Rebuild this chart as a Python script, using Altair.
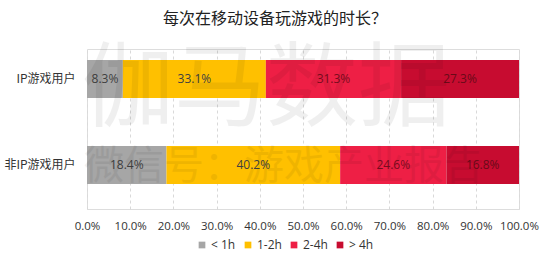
import altair as alt
import pandas as pd

groups = ["IP游戏用户", "非IP游戏用户"]
durations = ["< 1h", "1-2h", "2-4h", "> 4h"]
ip_values = [8.3, 33.1, 31.3, 27.3]
non_ip_values = [18.4, 40.2, 24.6, 16.8]
colors = ["#A6A6A6", "#FFC000", "#EE1F45", "#C70C30"]
label_colors = ["#404040", "#404040", "#7B0C1E", "#6A0A18"]
x_ticks = [0, 10, 20, 30, 40, 50, 60, 70, 80, 90, 100]

rows = []
for g, vals in zip(groups, [ip_values, non_ip_values]):
    cum = 0.0
    for i, (d, v) in enumerate(zip(durations, vals)):
        rows.append({"group": g, "dur": d, "value": v, "order": i,
                     "start": cum, "end": cum + v, "mid": cum + v / 2,
                     "label": f"{v:.1f}%", "lc": label_colors[i]})
        cum += v
df = pd.DataFrame(rows)

font = "Noto Sans CJK SC"
lfont = "Open Sans"

base = alt.Chart(df)

y_enc = alt.Y("group:N", sort=groups, title=None,
              scale=alt.Scale(paddingInner=0.558, paddingOuter=0.209, align=0.306),
              axis=alt.Axis(domain=False, ticks=False, labelPadding=12, labelFontSize=12,
                            labelColor="#333333", labelFont=font))

bars = base.mark_bar().encode(
    x=alt.X("start:Q", scale=alt.Scale(domain=[0, 100]), title=None,
            axis=alt.Axis(values=x_ticks, labelExpr="format(datum.value, '.1f') + '%'",
                          domain=False, ticks=False, grid=True, gridDash=[3, 3],
                          gridColor="#D9D9D9", labelPadding=11, labelFontSize=11.5,
                          labelOverlap=False, labelBound=False, labelFlush=False,
                          labelColor="#333333", labelFont=lfont)),
    x2="end:Q",
    y=y_enc,
    color=alt.Color("dur:N", sort=durations,
                    scale=alt.Scale(domain=durations, range=colors),
                    legend=alt.Legend(title=None, orient="none", direction="horizontal",
                                      legendX=109, legendY=190, symbolType="square",
                                      symbolSize=45, symbolStrokeWidth=0,
                                      labelFontSize=12, labelColor="#333333",
                                      labelFont=lfont, columnPadding=6,
                                      labelOffset=3)),
    order="order:Q",
)

labels = base.mark_text(fontSize=12, font=lfont).encode(
    x="mid:Q",
    y=alt.Y("group:N", sort=groups),
    text="label:N",
    color=alt.Color("lc:N", scale=None, legend=None),
)

wm1 = alt.Chart(pd.DataFrame({"t": ["伽马数据"]})).mark_text(
    fontSize=92, font=font, color="#000000", opacity=0.06, align="left", baseline="middle"
).encode(x=alt.value(-5), y=alt.value(42), text="t:N")

wm2 = alt.Chart(pd.DataFrame({"t": ["微信号：游戏产业报告"]})).mark_text(
    fontSize=40, font=font, color="#000000", opacity=0.06, align="left", baseline="middle"
).encode(x=alt.value(-3), y=alt.value(118), text="t:N")

chart = alt.layer(bars, labels, wm1, wm2).properties(
    width=432, height=160,
    autosize=alt.AutoSizeParams(type="none"),
    padding={"left": 87, "top": 49, "right": 31, "bottom": 46},
    title=alt.TitleParams("每次在移动设备玩游戏的时长？", fontSize=16, font=font,
                          fontWeight="normal", color="#222222", offset=18, dx=-28,
                          anchor="middle"),
).configure_view(stroke=None).configure(background="white")

chart.save("out.html", embed_options={"renderer": "svg", "actions": False})
